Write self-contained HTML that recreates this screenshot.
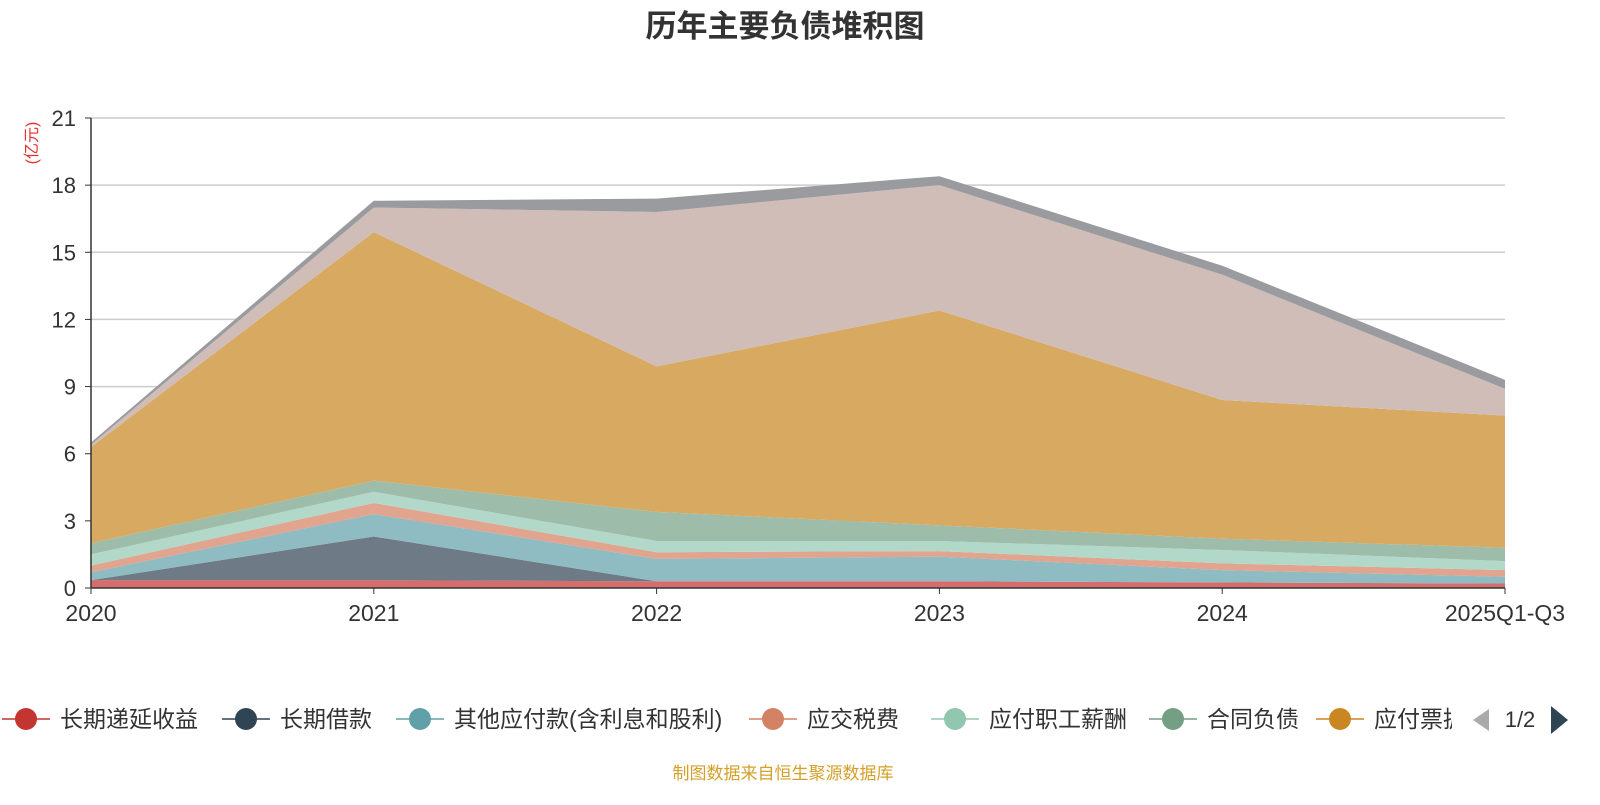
<!DOCTYPE html>
<html><head><meta charset="utf-8"><style>
body{margin:0;background:#fff;font-family:"Liberation Sans","Noto Sans CJK SC",sans-serif;}
svg text{font-family:"Liberation Sans","Noto Sans CJK SC",sans-serif;}
</style></head><body>
<svg id="c" width="1600" height="800">
<text x="785" y="37" font-size="31" font-weight="bold" text-anchor="middle" fill="#333">历年主要负债堆积图</text>
<text transform="translate(37,143) rotate(-90)" font-size="16" fill="#e03030" text-anchor="middle">(亿元)</text>
<g id="grid"></g><g id="areas"></g><g id="axes"></g><g id="legend"></g>
<text x="783" y="779" font-size="17" fill="#d4a02a" text-anchor="middle">制图数据来自恒生聚源数据库</text>
</svg>
<script>
const categories=["2020","2021","2022","2023","2024","2025Q1-Q3"];
const seriesNames=["长期递延收益","长期借款","其他应付款(含利息和股利)","应交税费","应付职工薪酬","合同负债","应付票据","应付账款","其他"];
const s1=[0.35,0.35,0.3,0.3,0.25,0.2];
const s2=[0,1.95,0,0,0,0];
const s3=[0.35,1.0,1.0,1.1,0.55,0.3];
const s4=[0.3,0.5,0.3,0.25,0.3,0.3];
const s5=[0.5,0.5,0.5,0.45,0.6,0.4];
const s6=[0.5,0.5,1.3,0.7,0.5,0.6];
const s7=[4.3,11.1,6.5,9.6,6.2,5.9];
const s8=[0.1,1.1,6.9,5.6,5.6,1.2];
const s9=[0.1,0.3,0.6,0.4,0.4,0.4];
const yTicks=[0,3,6,9,12,15,18,21];
const series=[s1,s2,s3,s4,s5,s6,s7,s8,s9];
const fills=["#d46d6b","#6e7b86","#8fbbc2","#e0a48f","#b1d8c8","#9dbcaa","#d8a961","#d0bdb8","#9a9b9e"];
const legendColors=["#c23531","#2f4554","#61a0a8","#d48265","#91c7ae","#749f83","#ca8622"];
const NS="http://www.w3.org/2000/svg";
const X0=91,X1=1505,Y0=588,Y1=118;
const xs=i=>X0+(X1-X0)*i/(categories.length-1);
const ys=v=>Y0-(Y0-Y1)*v/21;
function mk(t,a,p){const e=document.createElementNS(NS,t);for(const k in a)e.setAttribute(k,a[k]);p.appendChild(e);return e;}
const grid=document.getElementById('grid'),axes=document.getElementById('axes'),areas=document.getElementById('areas');
yTicks.forEach(v=>{
 if(v>0){const l=mk('line',{x1:X0,x2:X1,y1:ys(v),y2:ys(v),stroke:'#ccc','stroke-width':1.5},grid);
 
 }
 const t=mk('text',{x:76,y:ys(v)+8,'font-size':22,'text-anchor':'end',fill:'#333'},axes);t.textContent=v;
 
 
 mk('line',{x1:X0-6,x2:X0,y1:ys(v),y2:ys(v),stroke:'#333'},axes);
});
let base=categories.map(()=>0);
series.forEach((s,k)=>{
 const top=base.map((b,i)=>b+s[i]);
 let d='M'+top.map((v,i)=>xs(i)+','+ys(v)).join('L');
 for(let i=categories.length-1;i>=0;i--)d+='L'+xs(i)+','+ys(base[i]);
 const p=mk('path',{d:d+'Z',fill:fills[k]},areas);
 
 
 base=top;
});
mk('line',{x1:X0,x2:X0,y1:Y1,y2:Y0,stroke:'#333','stroke-width':1.5},axes);
mk('line',{x1:X0,x2:X1,y1:Y0,y2:Y0,stroke:'#333','stroke-width':1.5},axes);
categories.forEach((c,i)=>{
 mk('line',{x1:xs(i),x2:xs(i),y1:Y0,y2:Y0+6,stroke:'#333'},axes);
 const t=mk('text',{x:xs(i),y:621,'font-size':23,'text-anchor':'middle',fill:'#333'},axes);t.textContent=c;
 
 
});
const lg=document.getElementById('legend');
const lx=[2,222,396,749,931,1149,1316];
for(let k=0;k<7;k++){
 const g=mk('g',{},lg);
 
 
 mk('line',{x1:lx[k],x2:lx[k]+48,y1:719,y2:719,stroke:legendColors[k],'stroke-width':1.5},g);
 mk('circle',{cx:lx[k]+24,cy:719,r:11,fill:legendColors[k]},g);
 const t=mk('text',{x:lx[k]+58,y:727,'font-size':23,fill:'#333'},g);t.textContent=seriesNames[k];
}
mk('rect',{x:1452,y:700,width:148,height:40,fill:'#fff'},lg);
const pl=mk('path',{d:'M1489,709L1473,720L1489,731Z',fill:'#aaa'},lg);


const pt=mk('text',{x:1520,y:727,'font-size':22,'text-anchor':'middle',fill:'#333'},lg);pt.textContent='1/2';


const pn=mk('path',{d:'M1551,706L1568,720L1551,734Z',fill:'#2f4554'},lg);


</script>
</body></html>
